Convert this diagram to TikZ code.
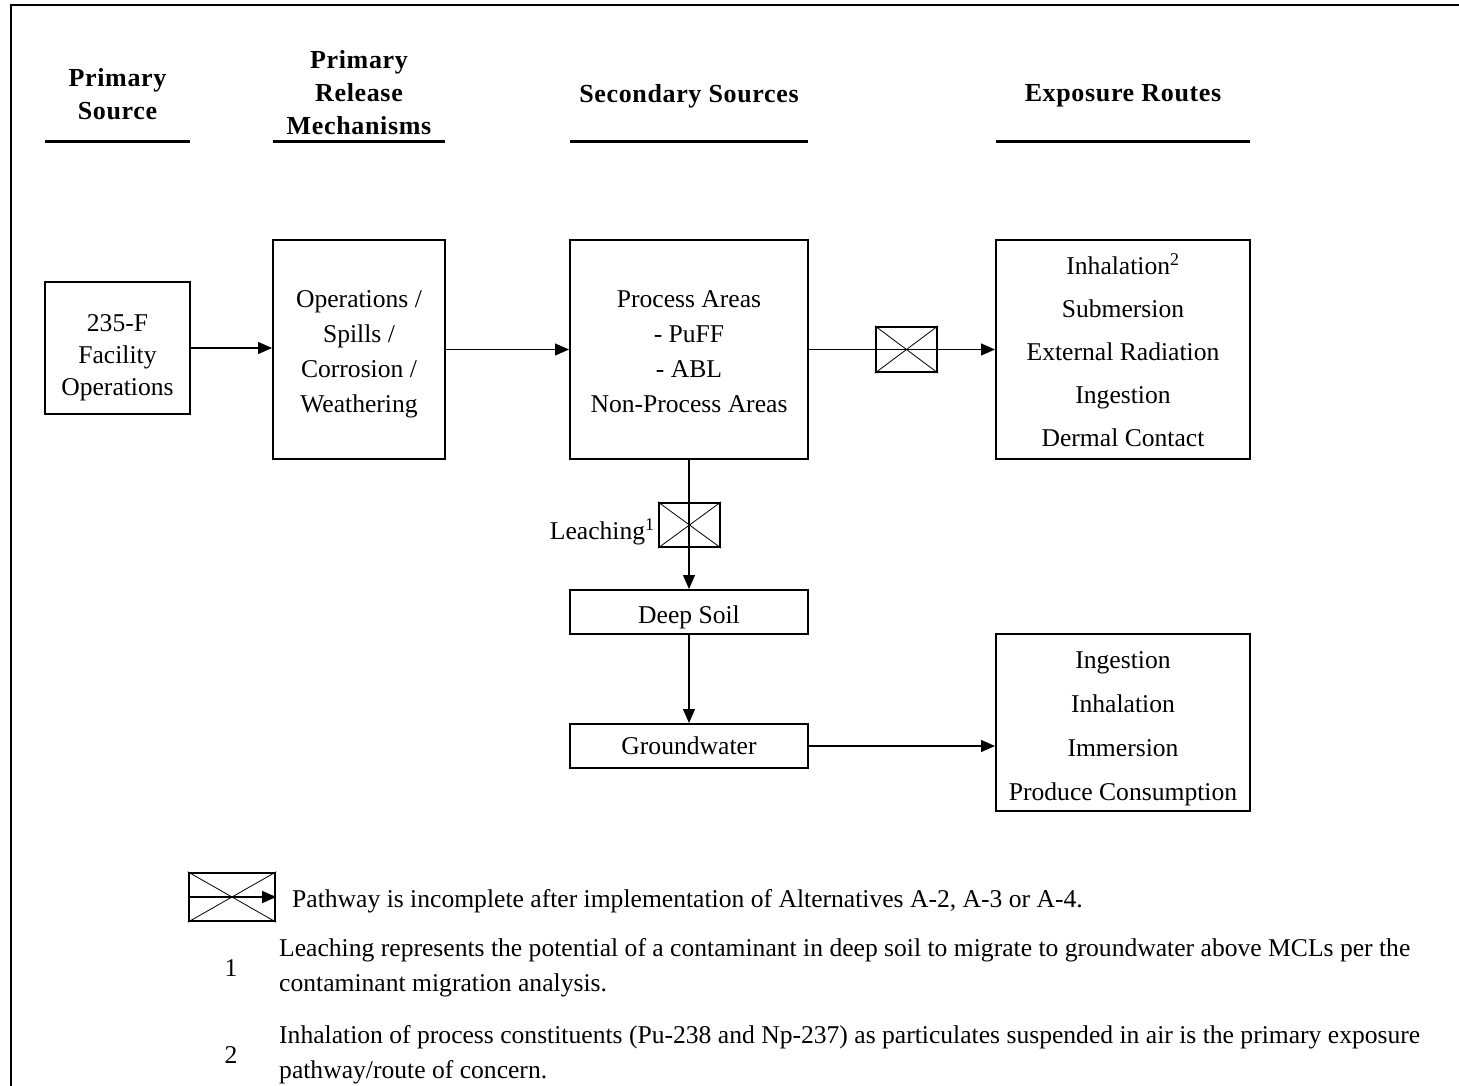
\documentclass[tikz,border=0pt]{standalone}
\usepackage{fontspec}
\setmainfont{Liberation Serif}
\usetikzlibrary{arrows.meta}
\newcommand\fsz[1]{\fontsize{25.6}{#1}\selectfont}
\begin{document}
\begin{tikzpicture}[x=1pt,y=-1pt,
  box/.style={draw,line width=2pt,inner sep=0pt},
  btxt/.style={inner sep=0pt,align=center},
  xbox/.style={draw,line width=2.4pt,inner sep=0pt},
  arr/.style={-{Triangle[length=14pt,width=12pt]},line width=1.3pt},
  head/.style={font=\fontsize{26}{33}\selectfont\bfseries\addfontfeature{LetterSpace=2.5},align=center,inner sep=0pt},
  uline/.style={line width=3pt},
  txt/.style={inner sep=0pt,font=\fsz{35}}]
\useasboundingbox (0,0) rectangle (1459,1086);
% frame
\draw[line width=2pt] (11,1086) -- (11,5) -- (1459,5);
% headers
\node[head] (h1) at (117.5,94) {Primary\\Source};
\node[head] (h2) at (359,93) {Primary\\Release\\Mechanisms};
\node[head] (h3) at (689,96) {Secondary Sources};
\node[head] (h4) at (1123,96) {Exposure Routes};
\draw[uline] (45,142) -- (190,142);
\draw[uline] (273,142) -- (445,142);
\draw[uline] (570,142) -- (808,142);
\draw[uline] (996,142) -- (1250,142);
% boxes
\node[box,minimum width=145,minimum height=132] (src) at (117.5,348) {};
\node[btxt,font=\fsz{32}] (srct) at (117.5,358) {235-F\\Facility\\Operations};
\node[box,minimum width=172,minimum height=219] (rel) at (359,349.5) {};
\node[btxt,font=\fsz{35}] (relt) at (359,354) {Operations /\\Spills /\\Corrosion /\\Weathering};
\node[box,minimum width=238,minimum height=219] (sec) at (689,349.5) {};
\node[btxt,font=\fsz{35}] (sect) at (689,352) {Process Areas\\- PuFF\\- ABL\\Non-Process Areas};
\node[box,minimum width=254,minimum height=219] (exp1) at (1123,349.5) {};
\node[btxt,font=\fsz{43}] (exp1t) at (1123,350) {Inhalation\textsuperscript{2}\\Submersion\\External Radiation\\Ingestion\\Dermal Contact};
\node[box,minimum width=238,minimum height=44] (soil) at (689,612) {};
\node[btxt,font=\fsz{35}] (soilt) at (689,617) {Deep Soil};
\node[box,minimum width=238,minimum height=44] (gw) at (689,746) {};
\node[btxt,font=\fsz{35}] (gwt) at (689,746) {Groundwater};
\node[box,minimum width=254,minimum height=177] (exp2) at (1123,722.5) {};
\node[btxt,font=\fsz{44}] (exp2t) at (1123,729) {Ingestion\\Inhalation\\Immersion\\Produce Consumption};
% arrows
\draw[arr] (src.east) -- (src.east -| rel.west);
\draw[arr] (rel.east) -- (sec.west);
\draw[arr] (sec.east) -- (exp1.west);
\draw[arr] (sec.south) -- (soil.north);
\draw[arr] (soil.south) -- (gw.north);
\draw[arr] (gw.east) -- (gw.east -| exp2.west);
% incomplete pathway boxes
\node[xbox,minimum width=61,minimum height=45] (xb1) at (906.5,349.5) {};
\draw[line width=0.8pt] (xb1.north west) -- (xb1.south east) (xb1.north east) -- (xb1.south west);
\node[xbox,minimum width=61,minimum height=44] (xb2) at (689.5,525) {};
\draw[line width=0.8pt] (xb2.north west) -- (xb2.south east) (xb2.north east) -- (xb2.south west);
\node[txt,anchor=east] (leach) at ([xshift=-3pt,yshift=-7pt]xb2.west) {Leaching\textsuperscript{1}};
% legend
\node[xbox,minimum width=86,minimum height=48] (lgx) at (232,897) {};
\draw[line width=0.8pt] (lgx.north west) -- (lgx.south east) (lgx.north east) -- (lgx.south west);
\draw[arr] (lgx.west) -- (lgx.east);
\node[txt,anchor=west] (lg0) at (292,901) {Pathway is incomplete after implementation of Alternatives A-2, A-3 or A-4.};
\node[txt] (n1) at (231,968) {1};
\node[txt,anchor=west,align=left] (lg1) at (279,967.5) {Leaching represents the potential of a contaminant in deep soil to migrate to groundwater above MCLs per the\\contaminant migration analysis.};
\node[txt] (n2) at (231,1055) {2};
\node[txt,anchor=west,align=left] (lg2) at (279,1054.5) {Inhalation of process constituents (Pu-238 and Np-237) as particulates suspended in air is the primary exposure\\pathway/route of concern.};
\end{tikzpicture}
\end{document}
